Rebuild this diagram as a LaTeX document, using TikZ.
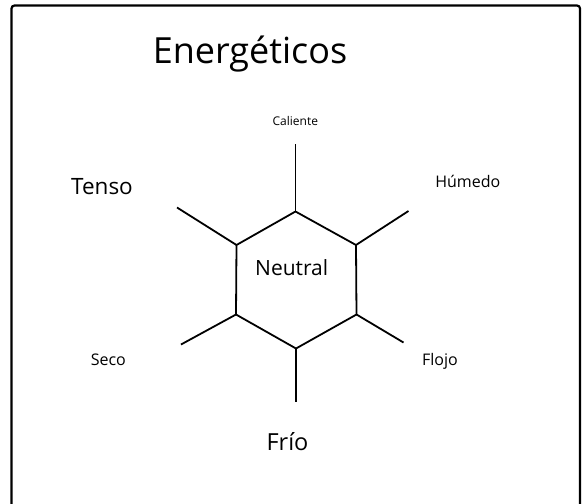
\documentclass[tikz,border=0pt]{standalone}
\usepackage{fontspec}
\setmainfont{Open Sans}
\usepackage{tikz}

\tikzset{
  lbl/.style={anchor=base, inner sep=0pt},
  spoke/.style={line width=1.8pt}
}
\newcommand{\fs}[1]{\fontsize{#1}{#1}\selectfont}

\begin{document}
\begin{tikzpicture}[x=1pt, y=-1pt]
    \useasboundingbox (0,0) rectangle (582,504);
    \draw[line width=2.2pt, rounded corners=3pt] (11.5,512) -- (11.5,5.5) -- (580,5.5) -- (580,512);
    \node[lbl] (titulo) at (250,63) {\fs{36}Energéticos};
    % hexagono
    \coordinate (n) at (295.5,211.5); \coordinate (s) at (296,348.5);
    \coordinate (no) at (236.5,245); \coordinate (ne) at (356,245);
    \coordinate (so) at (236,314.5); \coordinate (se) at (356.5,314.5);
    \draw[spoke] (n) -- (ne) -- (se) -- (s) -- (so) -- (no) -- cycle;
    % radios
    \coordinate (rn) at (295.5,143.5); \coordinate (rs) at (296,402);
    \coordinate (rno) at (177,207.5); \coordinate (rne) at (408.5,211);
    \coordinate (rso) at (181,344.5); \coordinate (rse) at (403.5,342.5);
    \draw[spoke] (n) -- (rn); \draw[spoke] (s) -- (rs);
    \draw[spoke] (no) -- (rno); \draw[spoke] (ne) -- (rne);
    \draw[spoke] (so) -- (rso); \draw[spoke] (se) -- (rse);
    \node[lbl] (neutral) at (291.7,275) {\fs{21}Neutral};
    \node[lbl] (caliente) at (295.3,125) {\fs{12}Caliente};
    \node[lbl] (humedo) at (467.8,187.3) {\fs{16}Húmedo};
    \node[lbl] (tenso) at (102,194) {\fs{22.5}Tenso};
    \node[lbl] (seco) at (108.3,365.7) {\fs{16}Seco};
    \node[lbl] (flojo) at (440,365) {\fs{16}Flojo};
    \node[lbl] (frio) at (287.5,450.7) {\fs{23.5}Frío};
\end{tikzpicture}
\end{document}
